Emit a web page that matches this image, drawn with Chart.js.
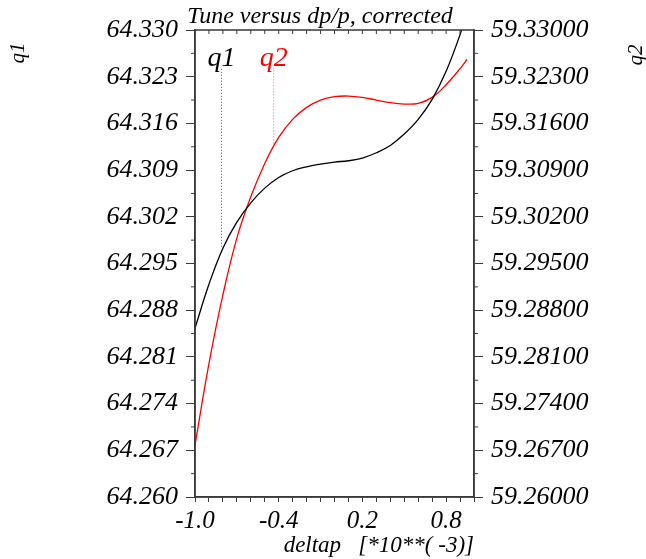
<!DOCTYPE html>
<html>
<head>
<meta charset="utf-8">
<script src="https://cdn.jsdelivr.net/npm/chart.js@4"></script>
<style>
  html, body { margin: 0; padding: 0; background: #fff; }
  #wrap { width: 646px; height: 559px; }
</style>
</head>
<body>
<div id="wrap"><canvas id="tuneChart" width="646" height="559"></canvas></div>
<script>
// deltap values [*10**(-3)]
let deltap = [-1.0,-0.9,-0.8,-0.7,-0.6,-0.5,-0.4,-0.3,-0.2,-0.1,0.0,0.1,0.2,0.3,0.4,0.5,0.6,0.7,0.8,0.9,0.95];
let q1 = [64.2853,64.2919,64.2973,64.3012,64.3041,64.3063,64.3079,64.3089,64.3095,64.3099,64.3102,64.3104,64.3108,64.3116,64.3127,64.3144,64.3166,64.3196,64.3238,64.3293,64.3328];
let q2 = [59.2678,59.2800,59.2903,59.2988,59.3050,59.3100,59.3139,59.3166,59.3184,59.3195,59.3200,59.3201,59.3199,59.3195,59.3191,59.3189,59.3190,59.3199,59.3218,59.3242,59.3256];
let xTickLabels = [-1.0,-0.4,0.2,0.8];
// label markers: [x, curve value, top value]
let q1Marker = [-0.81, 64.2975, 64.3245];
let q2Marker = [-0.436, 59.3130, 59.3245];

const serif = '"Liberation Serif", "DejaVu Serif", serif';
const axisColor = '#3a3a3a';

function pts(xs, ys) {
    let out = [];
    for (let i = 0; i < xs.length; i++) out.push({x: xs[i], y: ys[i]});
    return out;
}

let decor = {
    id: 'decor',
    afterDraw(chart) {
        let ctx = chart.ctx;
        let a = chart.chartArea;
        let sx = chart.scales.x, s1 = chart.scales.y1, s2 = chart.scales.y2;
        ctx.save();
        // frame
        ctx.strokeStyle = axisColor;
        ctx.lineWidth = 1.5;
        ctx.strokeRect(a.left, a.top, a.right - a.left, a.bottom - a.top);
        // minor ticks on y axes
        ctx.lineWidth = 1;
        for (let v = 64.2635; v < 64.330; v += 0.007) {
            let y = s1.getPixelForValue(v);
            ctx.beginPath(); ctx.moveTo(a.left - 4, y); ctx.lineTo(a.left, y); ctx.stroke();
        }
        for (let v = 59.2635; v < 59.330; v += 0.007) {
            let y = s2.getPixelForValue(v);
            ctx.beginPath(); ctx.moveTo(a.right, y); ctx.lineTo(a.right + 4, y); ctx.stroke();
        }
        // ticks on top edge
        for (let v = -1.0; v <= 1.0001; v += 0.1) {
            let x = sx.getPixelForValue(v);
            ctx.beginPath(); ctx.moveTo(x, a.top); ctx.lineTo(x, a.top + 4); ctx.stroke();
        }
        // texts
        ctx.fillStyle = '#000';
        ctx.font = 'italic 24px ' + serif;
        ctx.textAlign = 'center';
        ctx.textBaseline = 'alphabetic';
        ctx.fillText('Tune versus dp/p, corrected', 320, 23);
        ctx.font = 'italic 23px ' + serif;
        ctx.textAlign = 'right';
        ctx.fillText('deltap   [*10**( -3)]', 474, 552);
        // marker labels
        ctx.font = 'italic 28px ' + serif;
        ctx.textAlign = 'center';
        ctx.fillStyle = '#000';
        ctx.fillText('q1', sx.getPixelForValue(q1Marker[0]), 66);
        ctx.fillStyle = '#ff0000';
        ctx.fillText('q2', sx.getPixelForValue(q2Marker[0]), 66);
        // axis titles (reading bottom to top)
        ctx.fillStyle = '#000';
        ctx.font = 'italic 21px ' + serif;
        ctx.textBaseline = 'middle';
        ctx.save();
        ctx.translate(18, 53);
        ctx.rotate(-Math.PI / 2);
        ctx.fillText('q1', 0, 0);
        ctx.restore();
        ctx.save();
        ctx.translate(636, 55);
        ctx.rotate(-Math.PI / 2);
        ctx.fillText('q2', 0, 0);
        ctx.restore();
        ctx.restore();
    }
};

let data = {
    datasets: [{
        label: 'q1',
        data: pts(deltap, q1),
        yAxisID: 'y1',
        borderColor: '#000000',
        borderWidth: 1.3,
        pointRadius: 0,
        tension: 0.4
    }, {
        label: 'q2',
        data: pts(deltap, q2),
        yAxisID: 'y2',
        borderColor: '#ff0000',
        borderWidth: 1.3,
        pointRadius: 0,
        tension: 0.4
    }, {
        label: 'q1 marker',
        data: [{x: q1Marker[0], y: q1Marker[1]}, {x: q1Marker[0], y: q1Marker[2]}],
        yAxisID: 'y1',
        borderColor: '#555555',
        borderWidth: 1,
        borderDash: [1, 2],
        pointRadius: 0
    }, {
        label: 'q2 marker',
        data: [{x: q2Marker[0], y: q2Marker[1]}, {x: q2Marker[0], y: q2Marker[2]}],
        yAxisID: 'y2',
        borderColor: '#ff6666',
        borderWidth: 1,
        borderDash: [1, 2],
        pointRadius: 0
    }]
};

let config = {
    type: 'line',
    data: data,
    plugins: [decor],
    options: {
        responsive: false,
        animation: false,
        layout: {padding: {top: 30, left: 0, right: 0, bottom: 0}},
        plugins: {legend: {display: false}, tooltip: {enabled: false}},
        scales: {
            x: {
                type: 'linear',
                min: -1.0,
                max: 1.0,
                afterFit: function(s) { s.height = 62; },
                afterBuildTicks: function(s) {
                    let t = [];
                    for (let i = -10; i <= 10; i++) t.push({value: i / 10});
                    s.ticks = t;
                },
                border: {color: axisColor, width: 1.5},
                grid: {drawOnChartArea: false, tickLength: 5, color: axisColor},
                ticks: {
                    maxRotation: 0,
                    autoSkip: false,
                    color: '#000',
                    padding: 4,
                    font: {family: serif, style: 'italic', size: 25},
                    callback: function(v) {
                        for (let i = 0; i < xTickLabels.length; i++) {
                            if (Math.abs(v - xTickLabels[i]) < 1e-6) return xTickLabels[i].toFixed(1);
                        }
                        return '';
                    }
                }
            },
            y1: {
                type: 'linear',
                position: 'left',
                min: 64.260,
                max: 64.330,
                afterFit: function(s) { s.width = 195; },
                afterBuildTicks: function(s) {
                    let t = [];
                    for (let i = 0; i <= 10; i++) t.push({value: 64.260 + i * 0.007});
                    s.ticks = t;
                },
                border: {color: axisColor, width: 1.5},
                grid: {drawOnChartArea: false, tickLength: 9, color: axisColor},
                ticks: {
                    color: '#000',
                    padding: 8,
                    font: {family: serif, style: 'italic', size: 26},
                    callback: function(v) { return v.toFixed(3); }
                }
            },
            y2: {
                type: 'linear',
                position: 'right',
                min: 59.260,
                max: 59.330,
                afterFit: function(s) { s.width = 172; },
                afterBuildTicks: function(s) {
                    let t = [];
                    for (let i = 0; i <= 10; i++) t.push({value: 59.260 + i * 0.007});
                    s.ticks = t;
                },
                border: {color: axisColor, width: 1.5},
                grid: {drawOnChartArea: false, tickLength: 9, color: axisColor},
                ticks: {
                    color: '#000',
                    padding: 8,
                    font: {family: serif, style: 'italic', size: 26},
                    callback: function(v) { return v.toFixed(5); }
                }
            }
        }
    }
};

let tuneChart = new Chart(document.getElementById('tuneChart'), config);
</script>
</body>
</html>
